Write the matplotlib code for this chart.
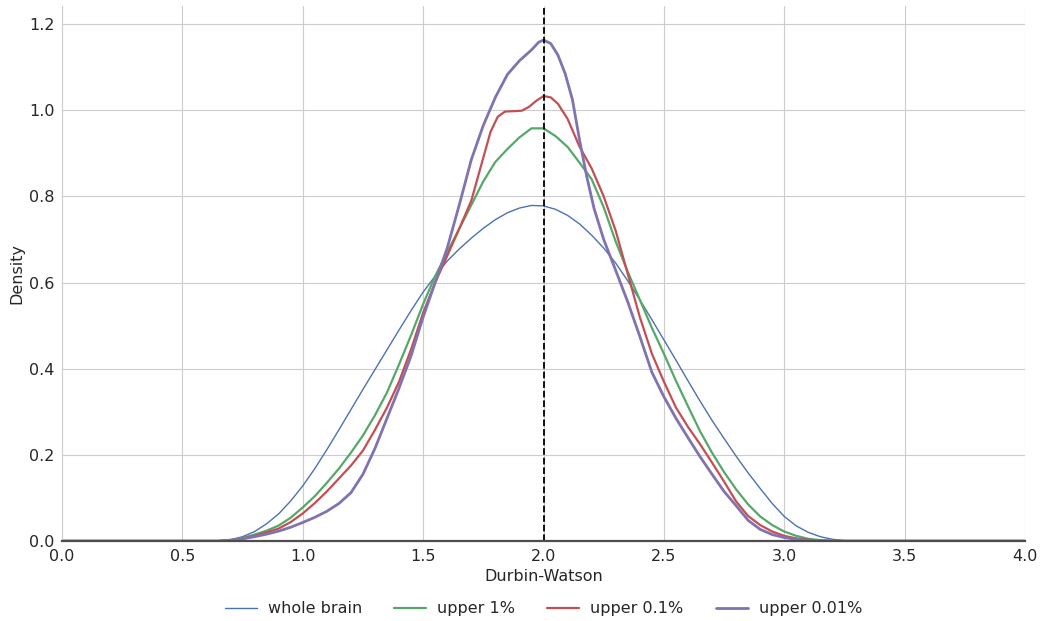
import matplotlib
matplotlib.use("Agg")
import matplotlib.pyplot as plt
import seaborn as sns

# ---------------- DATA ---------------- #

labels = ["whole brain", "upper 1%", "upper 0.1%", "upper 0.01%"]

whole_x = [0.0, 0.6, 0.65, 0.7, 0.75, 0.8, 0.85, 0.9, 0.95, 1.0, 1.05, 1.1, 1.15,
           1.2, 1.25, 1.3, 1.35, 1.4, 1.45, 1.5, 1.55, 1.6, 1.65, 1.7, 1.75, 1.8,
           1.85, 1.9, 1.95, 2.0, 2.05, 2.1, 2.15, 2.2, 2.25, 2.3, 2.35, 2.4, 2.45,
           2.5, 2.55, 2.6, 2.65, 2.7, 2.75, 2.8, 2.85, 2.9, 2.95, 3.0, 3.05, 3.1,
           3.15, 3.2, 3.25, 3.3, 4.0]
whole_y = [0.0, 0.0, 0.0005, 0.003, 0.01, 0.022, 0.04, 0.063, 0.093, 0.128, 0.168,
           0.212, 0.258, 0.305, 0.352, 0.398, 0.444, 0.49, 0.535, 0.578, 0.615,
           0.65, 0.678, 0.703, 0.726, 0.746, 0.762, 0.773, 0.779, 0.778, 0.77,
           0.756, 0.736, 0.71, 0.68, 0.645, 0.604, 0.56, 0.514, 0.467, 0.42, 0.372,
           0.325, 0.28, 0.238, 0.197, 0.158, 0.122, 0.087, 0.057, 0.035, 0.02, 0.01,
           0.004, 0.001, 0.0, 0.0]

up1_x = [0.0, 0.65, 0.7, 0.75, 0.8, 0.85, 0.9, 0.95, 1.0, 1.05, 1.1, 1.15, 1.2,
         1.25, 1.3, 1.35, 1.4, 1.45, 1.5, 1.55, 1.6, 1.65, 1.7, 1.75, 1.8, 1.85,
         1.9, 1.95, 2.0, 2.05, 2.1, 2.15, 2.2, 2.25, 2.3, 2.35, 2.4, 2.45, 2.5,
         2.55, 2.6, 2.65, 2.7, 2.75, 2.8, 2.85, 2.9, 2.95, 3.0, 3.05, 3.1, 3.15,
         3.2, 4.0]
up1_y = [0.0, 0.0, 0.002, 0.007, 0.015, 0.024, 0.036, 0.054, 0.078, 0.104, 0.135,
         0.168, 0.205, 0.245, 0.292, 0.345, 0.41, 0.478, 0.55, 0.615, 0.67, 0.725,
         0.78, 0.835, 0.88, 0.91, 0.937, 0.958, 0.958, 0.94, 0.915, 0.878, 0.84,
         0.775, 0.695, 0.625, 0.56, 0.495, 0.435, 0.372, 0.313, 0.255, 0.205,
         0.16, 0.12, 0.085, 0.057, 0.037, 0.022, 0.012, 0.005, 0.002, 0.0, 0.0]

up01_x = [0.0, 0.65, 0.7, 0.75, 0.8, 0.85, 0.9, 0.95, 1.0, 1.05, 1.1, 1.15, 1.2,
          1.25, 1.3, 1.35, 1.4, 1.45, 1.5, 1.55, 1.6, 1.65, 1.7, 1.75, 1.78, 1.81,
          1.84, 1.88, 1.91, 1.94, 1.97, 2.0, 2.03, 2.06, 2.1, 2.15, 2.2, 2.25, 2.3,
          2.35, 2.4, 2.45, 2.5, 2.55, 2.6, 2.65, 2.7, 2.75, 2.8, 2.85, 2.9, 2.95,
          3.0, 3.05, 3.1, 3.15, 3.2, 4.0]
up01_y = [0.0, 0.0, 0.002, 0.006, 0.012, 0.02, 0.029, 0.044, 0.064, 0.088, 0.115,
          0.145, 0.175, 0.21, 0.258, 0.31, 0.37, 0.445, 0.53, 0.6, 0.662, 0.725,
          0.79, 0.89, 0.95, 0.985, 0.997, 0.998, 0.999, 1.008, 1.022, 1.033, 1.03,
          1.015, 0.98, 0.915, 0.865, 0.8, 0.72, 0.62, 0.52, 0.435, 0.37, 0.31,
          0.265, 0.225, 0.182, 0.138, 0.092, 0.058, 0.037, 0.022, 0.012, 0.006,
          0.003, 0.001, 0.0, 0.0]

up001_x = [0.0, 0.65, 0.7, 0.75, 0.8, 0.85, 0.9, 0.95, 1.0, 1.05, 1.1, 1.15, 1.2,
           1.25, 1.3, 1.35, 1.4, 1.45, 1.5, 1.55, 1.6, 1.65, 1.7, 1.75, 1.8, 1.85,
           1.9, 1.95, 1.98, 2.0, 2.03, 2.06, 2.09, 2.12, 2.15, 2.18, 2.21, 2.25,
           2.3, 2.35, 2.4, 2.45, 2.5, 2.55, 2.6, 2.65, 2.7, 2.75, 2.8, 2.85, 2.9,
           2.95, 3.0, 3.05, 3.1, 3.2, 4.0]
up001_y = [0.0, 0.0, 0.002, 0.005, 0.01, 0.016, 0.023, 0.032, 0.043, 0.055, 0.069,
           0.087, 0.112, 0.155, 0.215, 0.285, 0.355, 0.43, 0.52, 0.6, 0.68, 0.78,
           0.885, 0.965, 1.03, 1.083, 1.115, 1.14, 1.158, 1.163, 1.155, 1.128,
           1.085, 1.025, 0.93, 0.845, 0.772, 0.7, 0.628, 0.555, 0.475, 0.392,
           0.335, 0.285, 0.24, 0.196, 0.155, 0.115, 0.082, 0.048, 0.027, 0.015,
           0.008, 0.004, 0.002, 0.0, 0.0]

reference_dw = 2.0

# ---------------- STYLE ---------------- #

sns.set_style("whitegrid")
plt.rcParams["font.family"] = ["DejaVu Sans"]

colors = ["#4C72B0", "#55A868", "#C44E52", "#8172B2"]
widths = [1.0, 1.6, 1.6, 2.0]

# ---------------- PLOT ---------------- #

fig = plt.figure(figsize=(10.42, 6.21), dpi=100)
ax = fig.add_axes([0.0595, 0.1288, 0.9242, 0.8615])

series = [(whole_x, whole_y), (up1_x, up1_y), (up01_x, up01_y), (up001_x, up001_y)]

for (xs, ys), label, color, lw in zip(series, labels, colors, widths):
    ax.plot(xs, ys, color=color, lw=lw, label=label)

ax.axvline(reference_dw, color="black", ls="--", lw=1.3)

ax.set_xlim(0, 4)
ax.set_ylim(0, 1.242)
ax.set_xticks([0.0, 0.5, 1.0, 1.5, 2.0, 2.5, 3.0, 3.5, 4.0])
ax.set_yticks([0.0, 0.2, 0.4, 0.6, 0.8, 1.0, 1.2])

ax.tick_params(axis="both", labelsize=11.5, colors="0.15", pad=2)
ax.set_xlabel("Durbin-Watson", fontsize=11.5, color="0.15", labelpad=4)
ax.set_ylabel("Density", fontsize=11.5, color="0.15", labelpad=3)

ax.spines["top"].set_visible(False)
ax.spines["right"].set_visible(False)
ax.spines["left"].set_color("0.8")
ax.spines["bottom"].set_color("0.3")
ax.spines["bottom"].set_linewidth(1.6)

ax.legend(
    loc="upper center",
    bbox_to_anchor=(0.5, -0.086),
    ncol=4,
    frameon=False,
    fontsize=11.5,
    columnspacing=2.0,
    handlelength=2.0,
    handletextpad=0.7
)

fig.savefig("out.png", dpi=100)
